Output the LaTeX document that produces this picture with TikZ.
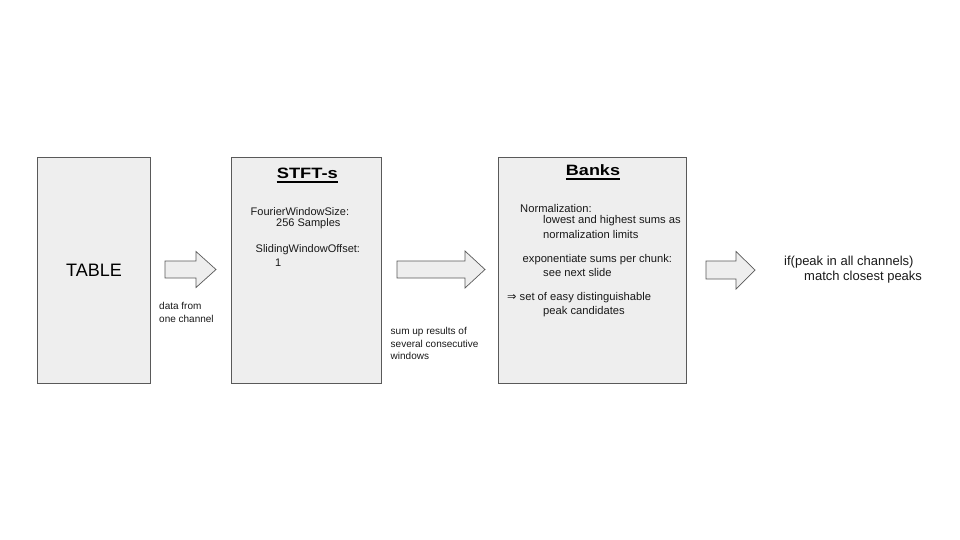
\documentclass[tikz,border=0pt]{standalone}
\usepackage{fontspec}
\setmainfont{Liberation Sans}
\newfontfamily\symfont{DejaVu Sans}
\begin{document}
\begin{tikzpicture}[x=1pt,y=-1pt,
  panel/.style={draw=black!65, fill=black!6.5, line width=0.8pt},
  blockarrow/.style={draw=black!65, fill=black!6.5, line width=0.7pt, line join=miter},
  txt/.style={anchor=west, inner sep=0pt, font=\fontsize{11}{13}\selectfont, text=black!90},
  btxt/.style={txt, font=\fontsize{11.2}{13}\selectfont},
  small/.style={anchor=north west, inner sep=0pt, align=left, font=\fontsize{10}{12.5}\selectfont, text=black!90},
  heading/.style={anchor=base, inner sep=0pt, font=\fontsize{15}{17}\selectfont\bfseries, text=black},
  uline/.style={line width=1.6pt, black}]
\useasboundingbox (0,0) rectangle (960,540);
% panels
\draw[panel] (37,157) rectangle (150,383);
\draw[panel] (231.5,157) rectangle (381.5,383);
\draw[panel] (498.5,157) rectangle (686,383);
\node[inner sep=0pt, font=\fontsize{18}{20}\selectfont] (table) at (94,270) {TABLE};
% arrows
\draw[blockarrow] (165,261) -- (196,261) -- (196,251.5) -- (216,269.5) -- (196,287.5) -- (196,278) -- (165,278) -- cycle;
\draw[blockarrow] (397,261) -- (465,261) -- (465,251) -- (485,269.5) -- (465,288) -- (465,278) -- (397,278) -- cycle;
\draw[blockarrow] (706,261) -- (736,261) -- (736,251.5) -- (755,270) -- (736,289) -- (736,279) -- (706,279) -- cycle;
% arrow labels
\node[small] (lab1) at (159,302.5) {data from\\one channel};
\node[small] (lab2) at (390.5,327.5) {sum up results of\\several consecutive\\windows};
% STFT
\node[heading] (stft) at (307.3,178.3) {\scalebox{1.22}[1]{STFT-s}};
\draw[uline] ([yshift=-4pt]stft.base west) -- ([yshift=-4pt]stft.base east);
\node[txt] (f1) at (250.5,211.5) {FourierWindowSize:};
\node[txt] (f2) at (276,224) {256 Samples};
\node[txt] (f3) at (255.5,250) {SlidingWindowOffset:};
\node[txt] (f4) at (275,262.5) {1};
% Banks
\node[heading] (banks) at (593,175.3) {\scalebox{1.2}[1]{Banks}};
\draw[uline] ([yshift=-4pt]banks.base west) -- ([yshift=-4pt]banks.base east);
\node[btxt] (b1) at (520,208) {Normalization:};
\node[btxt] (b2) at (543,221) {lowest and highest sums as};
\node[btxt] (b3) at (543,234) {normalization limits};
\node[btxt] (b4) at (522.5,260) {exponentiate sums per chunk:};
\node[btxt] (b5) at (543,272.5) {see next slide};
\node[btxt] (b6) at (507,298) {{\symfont ⇒} set of easy distinguishable};
\node[btxt] (b7) at (543,311.5) {peak candidates};
% final
\node[txt, font=\fontsize{13}{15}\selectfont] (r1) at (784,262) {if(peak in all channels)};
\node[txt, font=\fontsize{13}{15}\selectfont] (r2) at (804,277.5) {match closest peaks};
\end{tikzpicture}
\end{document}
